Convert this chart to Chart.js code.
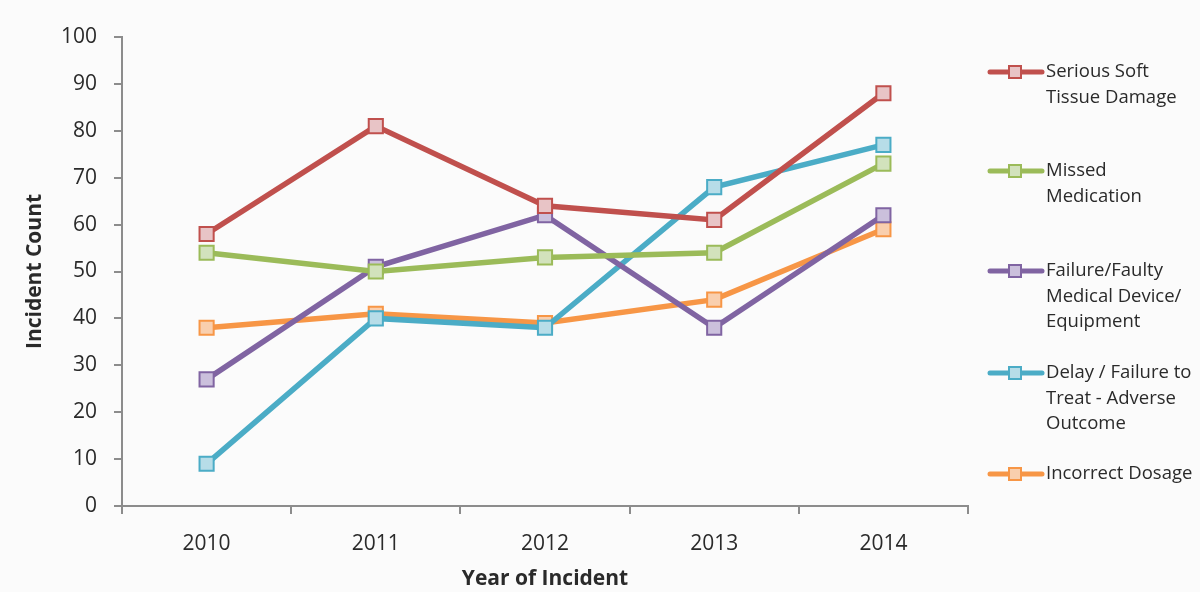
<!DOCTYPE html>
<html>
<head>
<meta charset="utf-8">
<script src="https://cdn.jsdelivr.net/npm/chart.js@4.4.1/dist/chart.umd.min.js"></script>
<style>
  html, body { margin: 0; padding: 0; background: #fbfbfb; }
  #wrap { width: 1200px; height: 592px; position: relative; }
</style>
</head>
<body>
<div id="wrap"><canvas id="incidentChart"></canvas></div>
<script>
// INCIDENT COUNT LINE CHART
const years = ['2010', '2011', '2012', '2013', '2014'];
const yTicks = [0, 10, 20, 30, 40, 50, 60, 70, 80, 90, 100];

const softTissue = [58, 81, 64, 61, 88];
const missedMedication = [54, 50, 53, 54, 73];
const faultyDevice = [27, 51, 62, 38, 62];
const delayTreat = [9, 40, 38, 68, 77];
const incorrectDosage = [38, 41, 39, 44, 59];

const seriesNames = [
    ['Serious Soft', 'Tissue Damage'],
    ['Missed', 'Medication'],
    ['Failure/Faulty', 'Medical Device/', 'Equipment'],
    ['Delay / Failure to', 'Treat - Adverse', 'Outcome'],
    ['Incorrect Dosage']
];

const lineColors = ['#c0504d', '#9bbb59', '#8064a2', '#4bacc6', '#f79646'];
const fillColors = ['#e8c4c6', '#d2e2bc', '#cbc0dc', '#b7dde8', '#f9cfae'];

const FONT = '"Open Sans", "DejaVu Sans", sans-serif';

function makeSet(i, values) {
    return {
        label: seriesNames[i].join(' '),
        data: values,
        borderColor: lineColors[i],
        backgroundColor: fillColors[i],
        pointBackgroundColor: fillColors[i],
        pointBorderColor: lineColors[i],
        pointBorderWidth: 2,
        pointStyle: 'rect',
        pointRadius: 10,
        pointHoverRadius: 10,
        borderWidth: 5.5,
        tension: 0
    };
}

// legend drawn on the right, with wrapped lines like the original
const sideLegend = {
    id: 'sideLegend',
    afterDraw(chart) {
        const ctx = chart.ctx;
        const rowsY = [72, 171, 271, 373, 474];
        ctx.save();
        ctx.font = '18.5px ' + FONT;
        ctx.textBaseline = 'middle';
        chart.data.datasets.forEach(function(ds, i) {
            const y = rowsY[i];
            ctx.strokeStyle = ds.borderColor;
            ctx.lineWidth = 5;
            ctx.lineCap = 'round';
            ctx.beginPath();
            ctx.moveTo(990, y);
            ctx.lineTo(1042, y);
            ctx.stroke();
            ctx.fillStyle = ds.pointBackgroundColor;
            ctx.fillRect(1009, y - 6, 12, 12);
            ctx.lineWidth = 2;
            ctx.strokeRect(1009, y - 6, 12, 12);
            ctx.fillStyle = '#2a2a2a';
            seriesNames[i].forEach(function(line, k) {
                ctx.fillText(line, 1046, y + k * 25.5);
            });
        });
        ctx.restore();
    }
};

const chartIncidentData = {
    labels: years,
    datasets: [
        makeSet(0, softTissue),
        makeSet(1, missedMedication),
        makeSet(2, faultyDevice),
        makeSet(3, delayTreat),
        makeSet(4, incorrectDosage)
    ]
};

const chartIncidentOptions = {
    responsive: true,
    maintainAspectRatio: false,
    animation: false,
    layout: {
        padding: { top: 37, right: 232, bottom: 0, left: 0 }
    },
    scales: {
        y: {
            min: 0,
            max: 100,
            afterBuildTicks: function(axis) {
                axis.ticks = yTicks.map(function(v) { return { value: v }; });
            },
            afterFit: function(axis) { axis.width = 122; },
            ticks: {
                color: '#2a2a2a',
                font: { family: FONT, size: 21 },
                padding: 17
            },
            border: { display: true, color: '#8c8c8c', width: 2 },
            grid: {
                display: true,
                drawOnChartArea: false,
                drawTicks: true,
                tickLength: 8,
                color: '#8c8c8c',
                lineWidth: 2
            },
            title: {
                display: true,
                text: 'Incident Count',
                color: '#2a2a2a',
                font: { family: FONT, size: 21, weight: 'bold' },
                padding: { top: 22, bottom: 0 }
            }
        },
        x: {
            offset: true,
            afterFit: function(axis) { axis.height = 86; },
            ticks: {
                color: '#2a2a2a',
                font: { family: FONT, size: 21 },
                padding: 17
            },
            border: { display: true, color: '#8c8c8c', width: 2 },
            grid: {
                display: true,
                offset: true,
                drawOnChartArea: false,
                drawTicks: true,
                tickLength: 8,
                color: '#8c8c8c',
                lineWidth: 2
            },
            title: {
                display: true,
                text: 'Year of Incident',
                color: '#2a2a2a',
                font: { family: FONT, size: 21, weight: 'bold' },
                padding: { top: 12, bottom: 0 }
            }
        }
    },
    plugins: {
        legend: { display: false },
        tooltip: { enabled: true }
    }
};

const ctxIncident = document.getElementById('incidentChart').getContext('2d');
const incidentChart = new Chart(ctxIncident, {
    type: 'line',
    data: chartIncidentData,
    options: chartIncidentOptions,
    plugins: [sideLegend]
});
</script>
</body>
</html>
